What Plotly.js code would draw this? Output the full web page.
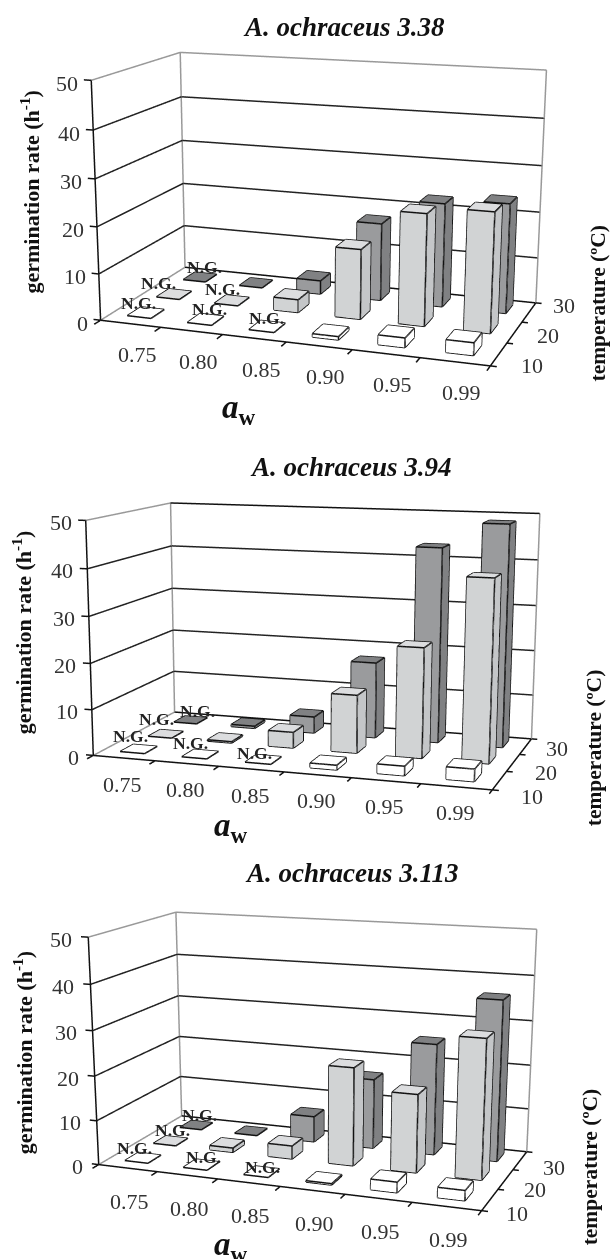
<!DOCTYPE html>
<html><head><meta charset="utf-8">
<script src="https://cdn.plot.ly/plotly-3.0.1.min.js"></script>
<style>html,body{margin:0;padding:0;background:#fff;overflow:hidden}
.c{position:absolute;left:0;width:610px;overflow:hidden}.p{position:absolute}</style></head>
<body>
<script>
const categories=['0.75','0.80','0.85','0.90','0.95','0.99'];
const temps=['10','20','30'];
const rateTicks=[0,10,20,30,40,50];
const a338_10=[0,0,0,0.7,2,2.6], a338_20=[0,0,2.8,15,23.7,25.2], a338_30=[0,0,3,17,22.5,23.6];
const a394_10=[0,0,0,1,2,2.6], a394_20=[0,0.3,3.5,12.7,23.8,39], a394_30=[0,0.5,3.7,17,43,48.5];
const a3113_10=[0,0,0,0.3,2.3,2.2], a3113_20=[0,1,3,22,17.4,30.6], a3113_30=[0,0,6,16,25.2,36];
const ng338=[[0,0],[0,1],[0,2],[1,0],[1,1],[2,0]], ng394=[[0,0],[0,1],[0,2],[1,0],[2,0]], ng3113=[[0,0],[0,1],[0,2],[1,0],[2,0]];

const charts=[
 {name:'A. ochraceus 3.38',s:[a338_10,a338_20,a338_30],ng:ng338,top:0,h:426,topBlack:false,
  p:[1.985,-5.745,1.419,.365,.283,-.005,1.646,.857,1509.343,274.747,276.744],
  title:[344,27],yl:[30,192],tl:[598,303],aw:[239,409],
  ngS:[[-7,11],[-15,12],[5,11],[4,12],[-9,13],[-1,10]],xS:[7,-31],zS:[-11,-3],yS:[[33,-11],[33,-3.5],[35,7]]},
 {name:'A. ochraceus 3.94',s:[a394_10,a394_20,a394_30],ng:ng394,top:426,h:424,topBlack:true,
  p:[1.937,-6.099,1.097,.326,.234,-.001,1.725,.890,1509.085,289.892,730.867],
  title:[351,467],yl:[22,633],tl:[594,748],aw:[231,827],
  ngS:[[-8,14],[-9,16],[7,10],[-9,12],[-9,8]],xS:[-1,-26],zS:[-12,-2],yS:[[32,-16],[33,-10],[31,-2]]},
 {name:'A. ochraceus 3.113',s:[a3113_10,a3113_20,a3113_30],ng:ng3113,top:850,h:409,topBlack:false,
  p:[2.056,-5.548,1.363,.376,.287,-.006,1.716,.841,1395.878,287.256,1133.370],
  title:[352,873],yl:[23,1053],tl:[590,1167],aw:[231,1247],
  ngS:[[-8,11],[2,12],[4,11],[3,9],[1,6]],xS:[2,-33],zS:[-14,-2],yS:[[27,-14],[29,-10],[34,-7]]}
];
function norm(a){const l=Math.hypot(...a);return a.map(v=>v/l)}
function cross(a,b){return [a[1]*b[2]-a[2]*b[1],a[2]*b[0]-a[0]*b[2],a[0]*b[1]-a[1]*b[0]]}
function basis(p){const yaw=p[3],pit=p[4],r=p[5];
 const F=[-Math.sin(yaw)*Math.cos(pit),Math.cos(yaw)*Math.cos(pit),-Math.sin(pit)];
 const R0=norm(cross(F,[0,0,1]));const U0=cross(R0,F);
 const U=U0.map((v,i)=>v*Math.cos(r)-R0[i]*Math.sin(r));
 return {F,U}}
const edgeL=[[0,1],[1,2],[2,3],[3,0],[4,5],[5,6],[6,7],[7,4],[0,4],[1,5],[2,6],[3,7]];
const seriesCol=[{f:'#ffffff',t:'#ffffff',r:'#ffffff'},{f:'#d1d3d4',t:'#dcdddf',r:'#c4c6c8'},{f:'#9a9b9d',t:'#808183',r:'#808183'}];
const xl=-.5,xh=5.5,yl=-.5,yh=2.5,pad=.25;
function segs(list,color,width){const x=[],y=[],z=[];
 list.forEach(path=>{path.forEach(a=>{x.push(a[0]);y.push(a[1]);z.push(a[2])});x.push(null);y.push(null);z.push(null)});
 return {type:'scatter3d',mode:'lines',x,y,z,connectgaps:false,line:{color,width},hoverinfo:'skip',showlegend:false}}
function traces(ch){const out=[];
 ch.s.forEach((vals,j0)=>{const X=[],Y=[],Z=[],I=[],J=[],K=[],FC=[],edges=[];const col=seriesCol[j0];const j=j0+.06;
  vals.forEach((v,i0)=>{const i=i0-.02,b=X.length,w=.2,d=.23;
   const V=[[i-w,j-d,0],[i+w,j-d,0],[i+w,j+d,0],[i-w,j+d,0],[i-w,j-d,v],[i+w,j-d,v],[i+w,j+d,v],[i-w,j+d,v]];
   V.forEach(q=>{X.push(q[0]);Y.push(q[1]);Z.push(q[2])});
   const q=(a,b2,c,e,cl)=>{I.push(b+a,b+a);J.push(b+b2,b+c);K.push(b+c,b+e);FC.push(cl,cl)};
   q(0,1,5,4,col.f);q(1,2,6,5,col.r);q(4,5,6,7,col.t);q(3,2,6,7,col.f);q(0,3,7,4,col.r);
   edgeL.forEach(e=>edges.push([V[e[0]],V[e[1]]]));
  });
  out.push({type:'mesh3d',x:X,y:Y,z:Z,i:I,j:J,k:K,facecolor:FC,flatshading:true,hoverinfo:'skip',
   lighting:{ambient:1,diffuse:0,specular:0,fresnel:0,roughness:1},showscale:false,name:temps[j0]+' °C'});
  out.push(segs(edges,'#111',3));
 });
 const gridZ=rateTicks.slice(1,5);
 out.push(segs(gridZ.map(z=>[[xl,yl,z],[xl,yh,z],[xh,yh,z]]),'#222',3));
 const grayP=[[[xl,yl,50],[xl,yh,50]],[[xh,yh,50],[xh,yh,0]],[[xl,yh,50],[xl,yh,0],[xl,yl,0]]];
 if(!ch.topBlack)grayP.push([[xl,yh,50],[xh,yh,50]]);
 out.push(segs(grayP,'#999',3));
 const blackP=[[[xl,yl,50],[xl,yl,0],[xh,yl,0],[xh,yh,0]],[[xl,yh,0],[xh,yh,0]]];
 if(ch.topBlack)blackP.push([[xl,yh,50],[xh,yh,50]]);
 for(let k=0;k<=6;k++)blackP.push([[xl+k,yl,0],[xl+k,yl-.2,0]]);
 for(let k=0;k<=3;k++)blackP.push([[xh,yl+k,0],[xh+.09,yl+k,0]]);
 rateTicks.forEach(z=>blackP.push([[xl,yl,z],[xl-.12,yl,z]]));
 out.push(segs(blackP,'#111',3));
 return out}
const serif='Liberation Serif, Times New Roman, serif';
async function go(){
for(const ch of charts){
 const p=ch.p;const {F,U}=basis(p);
 const f=p[8],H=Math.round(f/1.2071),W=1500,cx=p[9],cy=p[10];
 const left=cx-W/2,top=cy-H/2;
 const box=document.createElement('div');box.className='c';box.style.top=ch.top+'px';box.style.height=ch.h+'px';document.body.appendChild(box);
 const d=document.createElement('div');d.className='p';d.style.left=left+'px';d.style.top=(top-ch.top)+'px';d.style.width=W+'px';d.style.height=H+'px';box.appendChild(d);
 const dist=Math.hypot(p[0],p[1],p[2]);
 const px=(x,y)=>({x:(x-left)/W,y:1-(y-top)/H,xref:'paper',yref:'paper',showarrow:false,xanchor:'center',yanchor:'middle'});
 const ann=[
  Object.assign(px(ch.title[0],ch.title[1]),{text:'<b><i>'+ch.name+'</i></b>',font:{family:serif,size:27,color:'#111'}}),
  Object.assign(px(ch.yl[0],ch.yl[1]),{text:'<b>germination rate (h<sup>-1</sup>)</b>',textangle:-90,font:{family:serif,size:22,color:'#111'}}),
  Object.assign(px(ch.tl[0],ch.tl[1]),{text:'<b>temperature (ºC)</b>',textangle:-90,font:{family:serif,size:21.5,color:'#111'}}),
  Object.assign(px(ch.aw[0],ch.aw[1]),{text:'<b><i>a</i><sub>w</sub></b>',font:{family:serif,size:33,color:'#111'}})
 ];
 const tf={family:serif,size:22,color:'#333'};
 const scAnn=[];
 ch.ng.forEach((q,n)=>scAnn.push({x:q[0],y:q[1],z:0,text:'<b>N.G.</b>',showarrow:false,xshift:ch.ngS[n][0],yshift:ch.ngS[n][1],font:{family:serif,size:17.5,color:'#222'}}));
 categories.forEach((t,i)=>scAnn.push({x:i,y:yl,z:0,text:t,showarrow:false,xshift:ch.xS[0],yshift:ch.xS[1],font:tf}));
 temps.forEach((t,j)=>scAnn.push({x:xh,y:j,z:0,text:t,showarrow:false,xshift:ch.yS[j][0],yshift:ch.yS[j][1],font:tf}));
 rateTicks.forEach(v=>scAnn.push({x:xl,y:yl,z:v,text:String(v),showarrow:false,xanchor:'right',xshift:ch.zS[0],yshift:ch.zS[1],font:tf}));
 const axis={showbackground:false,showgrid:false,zeroline:false,showline:false,showspikes:false,showticklabels:false,title:{text:''},ticks:''};
 const layout={width:W,height:H,margin:{l:0,r:0,t:0,b:0},paper_bgcolor:'rgba(0,0,0,0)',showlegend:false,annotations:ann,
  scene:{aspectmode:'manual',aspectratio:{x:p[6]*(xh-xl+2*pad)/(xh-xl),y:p[7]*(yh-yl+2*pad)/(yh-yl),z:1},bgcolor:'rgba(0,0,0,0)',
   camera:{projection:{type:'perspective'},eye:{x:p[0],y:p[1],z:p[2]},center:{x:p[0]+F[0]*dist,y:p[1]+F[1]*dist,z:p[2]+F[2]*dist},up:{x:U[0],y:U[1],z:U[2]}},
   annotations:scAnn,
   xaxis:Object.assign({},axis,{range:[xl-pad,xh+pad]}),
   yaxis:Object.assign({},axis,{range:[yl-pad,yh+pad]}),
   zaxis:Object.assign({},axis,{range:[0,50]})}};
 await Plotly.newPlot(d,traces(ch),layout,{displayModeBar:false});
}
}
go();
</script></body></html>
